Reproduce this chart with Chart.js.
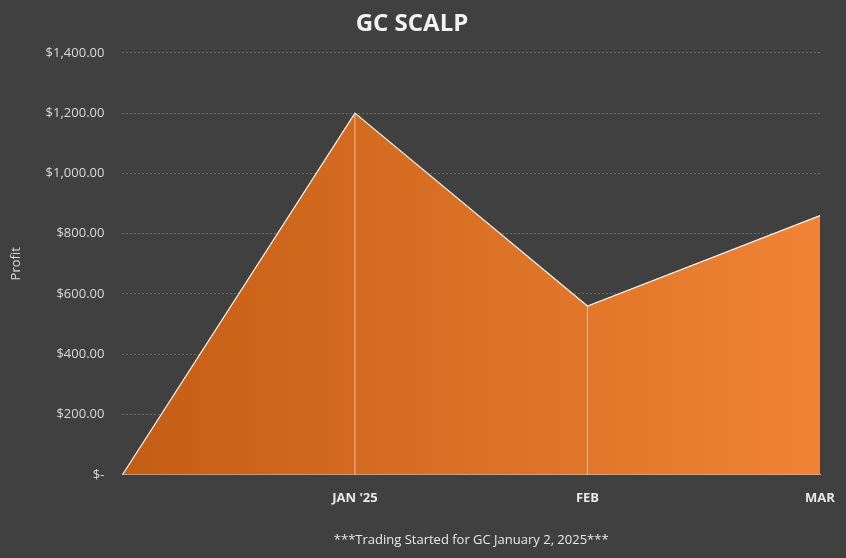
<!DOCTYPE html>
<html><head><meta charset="utf-8">
<script src="https://cdn.jsdelivr.net/npm/chart.js@4"></script>
<style>html,body{margin:0;background:#404040;}#w{width:846px;height:558px;}</style>
</head><body><div id="w"><canvas id="c"></canvas></div>
<script>
const categories = ["", "JAN '25", "FEB", "MAR"];
const profit = [0, 1200, 560, 860];
const yTicks = [0, 200, 400, 600, 800, 1000, 1200, 1400];

const dropLines = {
  id: 'dropLines',
  afterDatasetsDraw(chart) {
    const ctx = chart.ctx, meta = chart.getDatasetMeta(0), y0 = chart.scales.y.getPixelForValue(0);
    ctx.save(); ctx.strokeStyle = 'rgba(255,255,255,0.55)'; ctx.lineWidth = 1;
    meta.data.forEach((p, i) => { if (i > 0 && i < meta.data.length - 1) { ctx.beginPath(); ctx.moveTo(p.x, p.y); ctx.lineTo(p.x, y0); ctx.stroke(); } });
    ctx.restore();
  }
};

new Chart(document.getElementById('c'), {
  type: 'line',
  data: { labels: categories, datasets: [{
    data: profit, fill: 'origin', borderColor: '#f4f4f4', borderWidth: 1.2, pointRadius: 0, tension: 0,
    backgroundColor: (ctx) => {
      const a = ctx.chart.chartArea; if (!a) return '#e07026';
      const g = ctx.chart.ctx.createLinearGradient(a.left, 0, a.right, 0);
      g.addColorStop(0, '#c45e14'); g.addColorStop(1, '#f08335'); return g;
    }
  }]},
  options: {
    responsive: true, maintainAspectRatio: false, animation: false,
    layout: { padding: { left: 4, right: 26, top: 8, bottom: 6 } },
    plugins: { legend: { display: false }, tooltip: { enabled: false },
      title: { display: true, text: 'GC SCALP', color: '#f2f2f2', font: { family: 'Open Sans', size: 24 }, padding: { top: 2, bottom: 14 } } },
    scales: {
      x: { offset: false, grid: { display: false }, border: { color: '#bfbfbf' },
        ticks: { color: '#e8e8e8', font: { family: 'Open Sans', size: 13, weight: 'bold' }, padding: 8, maxRotation: 0 },
        title: { display: true, text: '***Trading Started for GC January 2, 2025***', color: '#e8e8e8', font: { family: 'Open Sans', size: 13 }, padding: { top: 18 } } },
      y: { min: 0, max: 1400, afterBuildTicks: (s) => { s.ticks = yTicks.map(v => ({ value: v })); },
        grid: { color: '#6a6a6a', drawTicks: false, tickBorderDash: [], }, border: { display: false, dash: [2, 2] },
        ticks: { color: '#d9d9d9', font: { family: 'Open Sans', size: 13 }, padding: 18,
          callback: (v) => v === 0 ? '$-' : '$' + v.toLocaleString('en-US', { minimumFractionDigits: 2 }) },
        title: { display: true, text: 'Profit', color: '#d9d9d9', font: { family: 'Open Sans', size: 13 } } }
    }
  },
  plugins: [dropLines]
});
</script></body></html>
